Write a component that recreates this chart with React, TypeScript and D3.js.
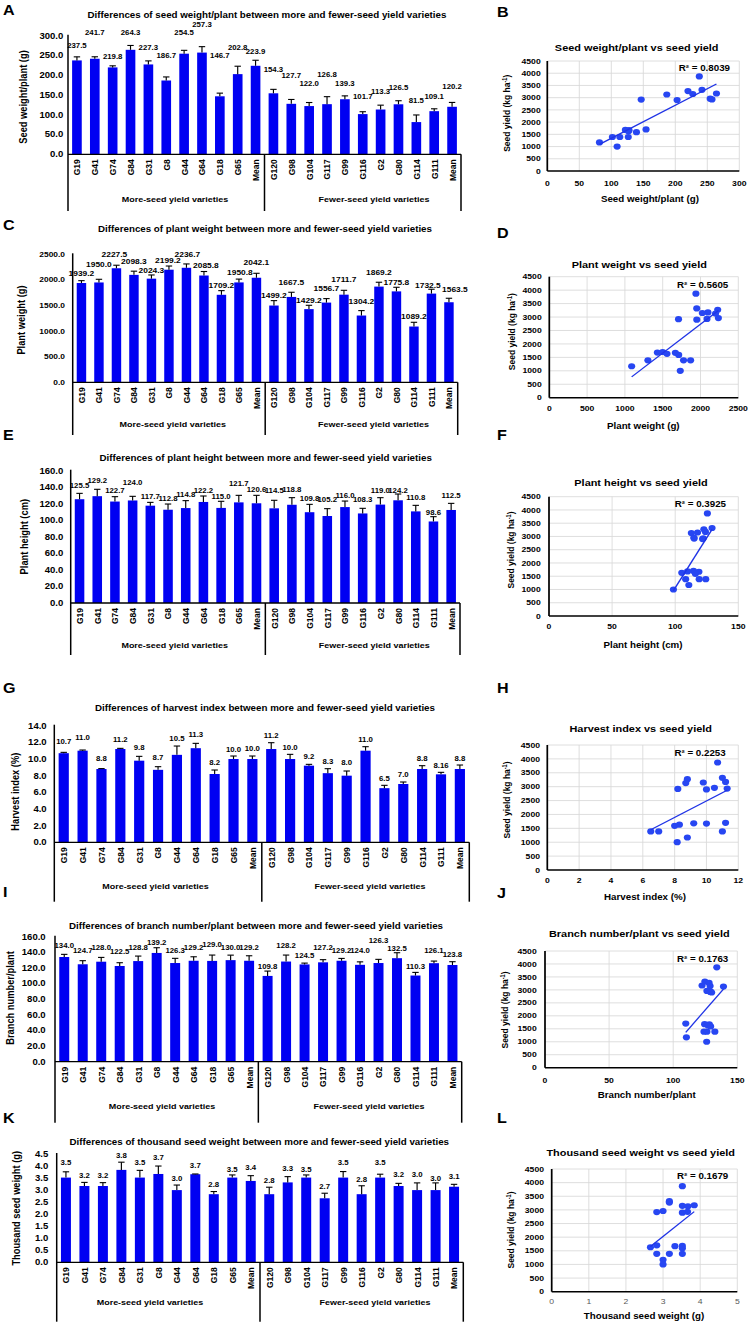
import React from "react";
import * as d3 from "d3";

// ---------- DATA ----------
const moreVarieties = ["G19", "G41", "G74", "G84", "G31", "G8", "G44", "G64", "G18", "G65", "Mean"];
const fewerVarieties = ["G120", "G98", "G104", "G117", "G99", "G116", "G2", "G80", "G114", "G111", "Mean"];
const categories = [...moreVarieties, ...fewerVarieties];
const groupNames = ["More-seed yield varieties", "Fewer-seed yield varieties"];

const seedWeight = [237.5, 241.7, 219.8, 264.3, 227.3, 186.7, 254.5, 257.3, 146.7, 202.8, 223.9, 154.3, 127.7, 122.0, 126.8, 139.3, 101.7, 113.3, 126.5, 81.5, 109.1, 120.2];
const seedWeightErr = [9, 5, 4, 11, 9, 9, 8.5, 15, 8, 20, 14, 10, 11, 9, 19, 8.5, 6, 11, 9, 18, 6, 11];

const plantWeight = [1939.2, 1950.0, 2227.5, 2098.3, 2024.3, 2199.2, 2236.7, 2085.8, 1709.2, 1950.8, 2042.1, 1499.2, 1667.5, 1429.2, 1556.7, 1711.7, 1304.2, 1869.2, 1775.8, 1089.2, 1732.5, 1563.5];
const plantWeightErr = [46, 62, 59, 72, 72, 72, 75, 78, 81, 65, 87, 96, 91, 75, 78, 85, 96, 85, 80, 83, 85, 78];

const plantHeight = [125.5, 129.2, 122.7, 124.0, 117.7, 112.8, 114.8, 122.2, 115.0, 121.7, 120.6, 114.5, 118.8, 109.8, 105.2, 116.0, 108.3, 119.0, 124.2, 110.8, 98.6, 112.5];
const plantHeightErr = [7.1, 8.3, 5.9, 5, 4, 6.9, 9, 7.2, 8, 8.5, 9.6, 9.7, 8.6, 9.5, 8.9, 7.3, 6.2, 8.4, 7.6, 7.3, 5.8, 8];

const harvestIndex = [10.7, 11.0, 8.8, 11.2, 9.8, 8.7, 10.5, 11.3, 8.2, 10.0, 10.0, 11.2, 10.0, 9.2, 8.3, 8.0, 11.0, 6.5, 7.0, 8.8, 8.16, 8.8];
const harvestIndexErr = [0.1, 0.08, 0.05, 0.08, 0.52, 0.38, 1.06, 0.58, 0.48, 0.36, 0.36, 0.76, 0.56, 0.16, 0.54, 0.56, 0.48, 0.34, 0.24, 0.4, 0.24, 0.48];
const harvestIndexText = ["10.7", "11.0", "8.8", "11.2", "9.8", "8.7", "10.5", "11.3", "8.2", "10.0", "10.0", "11.2", "10.0", "9.2", "8.3", "8.0", "11.0", "6.5", "7.0", "8.8", "8.16", "8.8"];

const branchNumber = [134.0, 124.7, 128.0, 122.5, 128.8, 139.2, 126.3, 129.2, 129.0, 130.0, 129.2, 109.8, 128.2, 124.5, 127.2, 129.2, 124.0, 126.3, 132.5, 110.3, 126.1, 123.8];
const branchNumberErr = [3.4, 4.6, 5.5, 4.2, 6.4, 6.7, 6, 5.1, 7.5, 6.4, 6.4, 6.2, 8.3, 1.7, 3.4, 3, 3.8, 4.7, 7, 4, 2.7, 4.2];

const seedWeight1000 = [3.52, 3.17, 3.17, 3.84, 3.52, 3.67, 3.0, 3.66, 2.83, 3.52, 3.38, 2.83, 3.32, 3.52, 2.66, 3.52, 2.83, 3.52, 3.17, 3.0, 3.0, 3.14];
const seedWeight1000Err = [0.24, 0.15, 0.14, 0.32, 0.3, 0.33, 0.21, 0.01, 0.11, 0.11, 0.22, 0.29, 0.24, 0.11, 0.21, 0.25, 0.35, 0.14, 0.11, 0.3, 0.3, 0.1];
const seedWeight1000Text = ["3.5", "3.2", "3.2", "3.8", "3.5", "3.7", "3.0", "3.7", "2.8", "3.5", "3.4", "2.8", "3.3", "3.5", "2.7", "3.5", "2.8", "3.5", "3.2", "3.0", "3.0", "3.1"];

// seed yield (kg/ha) of the 20 varieties, same order as categories without "Mean"
const seedYield = [3870, 3320, 3270, 3170, 3150, 3130, 2960, 2930, 2920, 2900, 1700, 1670, 1680, 1630, 1590, 1390, 1390, 1390, 1170, 1000];
const rSquared = ["0.8039", "0.5605", "0.3925", "0.2253", "0.1763", "0.1679"];

// ---------- LAYOUT (label placement, axis units) ----------
const labelAtA = [274, 309, 246, 309, 269, 249, 307, 327, 249, 269, 259, 213, 198, 178, 201, 178, 145, 158, 168, 137, 145, 170];
const labelAtC = [2129, 2305, 2500, 2356, 2180, 2389, 2500, 2277, 1900, 2148, 2336, 1699, 1945, 1594, 1828, 2012, 1574, 2141, 1945, 1295, 1900, 1822];
const labelDxC = [0, 0, -2, 0, 0, -1, 1, 2, 0, 1, 0, 0, 0, 0, 0, 0, 0, 0, 0, 0, -3.5, 6];
const labelAtE = [141.5, 147.9, 135.8, 145.5, 129, 125.7, 130.6, 135.8, 129, 144.7, 137.5, 135.8, 136.6, 126.6, 124.5, 129.7, 124.9, 135.8, 135.8, 127.8, 108.8, 130.2];
const labelAtG = [12.04, 12.6, 10.0, 12.3, 11.4, 10.2, 12.5, 12.9, 9.6, 11.1, 11.2, 12.8, 11.4, 10.3, 9.7, 9.6, 12.3, 7.7, 8.1, 10.0, 9.2, 10.0];
const labelAtI = [148.1, 142.1, 146.4, 140.8, 146.4, 152.3, 142.1, 146.4, 149.4, 146.4, 146.4, 121.6, 148.1, 135.3, 146.4, 142.1, 142.1, 154.9, 145.1, 121.6, 142.1, 136.6];
const labelAtK = [4.14, 3.59, 3.59, 4.42, 4.14, 4.36, 3.49, 4.01, 3.21, 3.86, 3.93, 3.39, 3.9, 3.86, 3.14, 4.14, 3.45, 4.14, 3.63, 3.66, 3.49, 3.56];

const SX = 1.15; // the figure is stretched horizontally
const W = 748;
const H = 1325;
const X = (v: number) => v / SX;
const FONT = "'Liberation Sans', Arial, Helvetica, sans-serif";
const BAR = "#0000f2";
const DOT = "#2746f2";
const LINE = "#1f33e6";

const fmt1 = (v: number) => v.toFixed(1);

type BarLayout = {
  left: number; right: number; top: number; bottom: number; boxBottom: number;
  tickRight: number; yTitleX: number; yTitleCY: number; groupCY: number; groupCX: number[];
  titleCX: number; titleCY: number; letterY: number; tickFont?: number; labelFont?: number; labelDx?: number[];
};

function BarPanel(props: {
  letter: string; title: string; yTitle: string; values: number[]; errs: number[];
  labels: string[]; labelAt: number[]; yMax: number; yStep: number; L: BarLayout;
}) {
  const { letter, title, yTitle, values, errs, labels, labelAt, yMax, yStep, L } = props;
  const x = d3.scaleBand<number>().domain(d3.range(categories.length)).range([X(L.left), X(L.right)]).paddingInner(0.46).paddingOuter(0.23);
  const y = d3.scaleLinear().domain([0, yMax]).range([L.bottom, L.top]);
  const ticks = d3.range(0, yMax + yStep / 2, yStep);
  const step = x.step();
  const divider = X(L.left) + step * moreVarieties.length;
  const bw = x.bandwidth();
  const cap = X(3.2);
  const tickFont = L.tickFont ?? 8.3;
  const labelFont = L.labelFont ?? 6.8;
  return (
    <g fontFamily={FONT}>
      <text x={X(3)} y={L.letterY} fontSize={14} fontWeight="bold">{letter}</text>
      <text x={X(L.titleCX)} y={L.titleCY} dy="0.35em" textAnchor="middle" fontSize={8.5} fontWeight="bold">{title}</text>
      <text transform={`translate(${X(L.yTitleX)},${L.yTitleCY}) rotate(-90)`} dy="0.35em" textAnchor="middle" fontSize={9.3} fontWeight="bold">{yTitle}</text>
      {ticks.map((t) => (
        <text key={t} x={X(L.tickRight)} y={y(t)} dy="0.35em" textAnchor="end" fontSize={tickFont} fontWeight="bold">{fmt1(t)}</text>
      ))}
      {values.map((v, i) => {
        const cx = (x(i) as number) + bw / 2;
        const dx = L.labelDx ? X(L.labelDx[i]) : 0;
        return (
          <g key={i}>
            <rect x={x(i)} y={y(v)} width={bw} height={L.bottom - y(v)} fill={BAR} />
            <line x1={cx} x2={cx} y1={y(v)} y2={y(v + errs[i])} stroke="#000" strokeWidth={1} />
            <line x1={cx - cap} x2={cx + cap} y1={y(v + errs[i])} y2={y(v + errs[i])} stroke="#000" strokeWidth={1.1} />
            <text x={cx + dx} y={y(labelAt[i])} dy="0.35em" textAnchor="middle" fontSize={labelFont} fontWeight="bold">{labels[i]}</text>
            <text transform={`translate(${cx},${L.bottom + 5}) rotate(-90)`} dy="0.35em" textAnchor="end" fontSize={8.5} fontWeight="bold">{categories[i]}</text>
          </g>
        );
      })}
      <line x1={X(L.left)} x2={X(L.left)} y1={L.top - 1} y2={L.boxBottom} stroke="#000" strokeWidth={1.3} />
      <line x1={X(L.left)} x2={X(L.right)} y1={L.bottom} y2={L.bottom} stroke="#000" strokeWidth={1.3} />
      <line x1={divider} x2={divider} y1={L.bottom} y2={L.boxBottom} stroke="#000" strokeWidth={1.3} />
      <line x1={X(L.right)} x2={X(L.right)} y1={L.bottom} y2={L.boxBottom} stroke="#000" strokeWidth={1.3} />
      {groupNames.map((g, i) => (
        <text key={g} x={X(L.groupCX[i])} y={L.groupCY} dy="0.35em" textAnchor="middle" fontSize={7.8} fontWeight="bold">{g}</text>
      ))}
    </g>
  );
}

type ScatterLayout = {
  left: number; right: number; top: number; bottom: number; tickRight: number;
  xTickCY: number; xTitleCX: number; xTitleCY: number; yTitleX: number; yTitleCY: number;
  r2Right: number; r2CY: number; titleCX: number; titleCY: number; letterY: number; lightXTicks?: boolean;
};

function ScatterPanel(props: {
  letter: string; title: string; xTitle: string; xs: number[]; ys: number[];
  xMax: number; xStep: number; r2: string; L: ScatterLayout;
}) {
  const { letter, title, xTitle, xs, ys, xMax, xStep, r2, L } = props;
  const x = d3.scaleLinear().domain([0, xMax]).range([X(L.left), X(L.right)]);
  const y = d3.scaleLinear().domain([0, 4500]).range([L.bottom, L.top]);
  const xt = d3.range(0, xMax + xStep / 2, xStep);
  const yt = d3.range(0, 4501, 500);
  const mx = d3.mean(xs) as number;
  const my = d3.mean(ys) as number;
  let sxy = 0, sxx = 0;
  xs.forEach((v, i) => { sxy += (v - mx) * (ys[i] - my); sxx += (v - mx) * (v - mx); });
  const slope = sxy / sxx;
  const icpt = my - slope * mx;
  const [x0, x1] = d3.extent(xs) as [number, number];
  return (
    <g fontFamily={FONT}>
      <text x={X(497)} y={L.letterY} fontSize={14} fontWeight="bold">{letter}</text>
      <text x={X(L.titleCX)} y={L.titleCY} dy="0.35em" textAnchor="middle" fontSize={9.5} fontWeight="bold">{title}</text>
      {yt.slice(1).map((t) => (
        <line key={"gy" + t} x1={X(L.left)} x2={X(L.right)} y1={y(t)} y2={y(t)} stroke="#d9d9d9" strokeWidth={0.8} />
      ))}
      {xt.slice(1).map((t) => (
        <line key={"gx" + t} x1={x(t)} x2={x(t)} y1={L.top} y2={L.bottom} stroke="#d9d9d9" strokeWidth={0.8} />
      ))}
      {yt.map((t) => (
        <text key={"ty" + t} x={X(L.tickRight)} y={y(t)} dy="0.35em" textAnchor="end" fontSize={7.5} fontWeight="bold">{t}</text>
      ))}
      {xt.map((t) => (
        <text key={"tx" + t} x={x(t)} y={L.xTickCY} dy="0.35em" textAnchor="middle" fontSize={7.5}
          fontWeight={L.lightXTicks ? "normal" : "bold"} fill={L.lightXTicks ? "#595959" : "#000"}>{t}</text>
      ))}
      <line x1={X(L.left)} x2={X(L.left)} y1={L.top} y2={L.bottom} stroke="#000" strokeWidth={1.5} />
      <line x1={X(L.left)} x2={X(L.right)} y1={L.bottom} y2={L.bottom} stroke="#000" strokeWidth={1.5} />
      {xs.map((v, i) => (
        <circle key={i} cx={x(v)} cy={y(ys[i])} r={3.1} fill={DOT} />
      ))}
      <line x1={x(x0)} x2={x(x1)} y1={y(icpt + slope * x0)} y2={y(icpt + slope * x1)} stroke={LINE} strokeWidth={1.2} />
      <text x={X(L.r2Right)} y={L.r2CY} dy="0.35em" textAnchor="end" fontSize={8.5} fontWeight="bold">R² = {r2}</text>
      <text x={X(L.xTitleCX)} y={L.xTitleCY} dy="0.35em" textAnchor="middle" fontSize={8.5} fontWeight="bold">{xTitle}</text>
      <text transform={`translate(${X(L.yTitleX)},${L.yTitleCY}) rotate(-90)`} dy="0.35em" textAnchor="middle" fontSize={8.5} fontWeight="bold">
        Seed yield (kg ha<tspan fontSize={5.5} dy="-3">-1</tspan><tspan dy="3">)</tspan>
      </text>
    </g>
  );
}

const varietyOnly = (arr: number[]) => arr.filter((_, i) => categories[i] !== "Mean");
const textOf = (arr: number[]) => arr.map(fmt1);

export default function App() {
  return (
    <svg width={W} height={H} viewBox={`0 0 ${W / SX} ${H}`} preserveAspectRatio="none"
      style={{ position: "absolute", left: 0, top: 0, background: "#fff" }}>
      <rect x={0} y={0} width={W / SX} height={H} fill="#fff" />
      <BarPanel letter="A" title="Differences of seed weight/plant between more and fewer-seed yield varieties"
        yTitle="Seed weight/plant (g)" values={seedWeight} errs={seedWeightErr} labels={textOf(seedWeight)} labelAt={labelAtA}
        yMax={300} yStep={50}
        L={{ left: 68, right: 461, top: 35.7, bottom: 154.3, boxBottom: 211, tickRight: 63.3, yTitleX: 23, yTitleCY: 97, groupCY: 199, groupCX: [175, 374], titleCX: 267, titleCY: 15, letterY: 15 }} />
      <BarPanel letter="C" title="Differences of plant weight between more and fewer-seed yield varieties"
        yTitle="Plant weight (g)" values={plantWeight} errs={plantWeightErr} labels={textOf(plantWeight)} labelAt={labelAtC}
        yMax={2500} yStep={500}
        L={{ left: 72.7, right: 457.7, top: 254.3, bottom: 382.3, boxBottom: 435, tickRight: 65, yTitleX: 21.7, yTitleCY: 320, groupCY: 424, groupCX: [172.8, 373.5], titleCX: 265, titleCY: 229.3, letterY: 230, tickFont: 7.3, labelFont: 7.3, labelDx: labelDxC }} />
      <BarPanel letter="E" title="Differences of plant height between more and fewer-seed yield varieties"
        yTitle="Plant height (cm)" values={plantHeight} errs={plantHeightErr} labels={textOf(plantHeight)} labelAt={labelAtE}
        yMax={160} yStep={20}
        L={{ left: 70.7, right: 460, top: 470.7, bottom: 603, boxBottom: 655, tickRight: 63.3, yTitleX: 24, yTitleCY: 536.7, groupCY: 645, groupCX: [174.7, 374.3], titleCX: 265.7, titleCY: 458.3, letterY: 440 }} />
      <BarPanel letter="G" title="Differences of harvest index between more and fewer-seed yield varieties"
        yTitle="Harvest index (%)" values={harvestIndex} errs={harvestIndexErr} labels={harvestIndexText} labelAt={labelAtG}
        yMax={14} yStep={2}
        L={{ left: 54.3, right: 469.3, top: 725.7, bottom: 842.3, boxBottom: 901.7, tickRight: 46.7, yTitleX: 15.7, yTitleCY: 791.7, groupCY: 886, groupCX: [155.5, 370], titleCX: 265, titleCY: 708.3, letterY: 693 }} />
      <BarPanel letter="I" title="Differences of branch number/plant between more and fewer-seed yield varieties"
        yTitle="Branch number/plant" values={branchNumber} errs={branchNumberErr} labels={textOf(branchNumber)} labelAt={labelAtI}
        yMax={160} yStep={20}
        L={{ left: 55, right: 461.7, top: 936.7, bottom: 1061.7, boxBottom: 1122.7, tickRight: 45.7, yTitleX: 10, yTitleCY: 998, groupCY: 1106, groupCX: [162, 369], titleCX: 256, titleCY: 926, letterY: 897 }} />
      <BarPanel letter="K" title="Differences of thousand seed weight between more and fewer-seed yield varieties"
        yTitle="Thousand seed weight (g)" values={seedWeight1000} errs={seedWeight1000Err} labels={seedWeight1000Text} labelAt={labelAtK}
        yMax={4.5} yStep={0.5}
        L={{ left: 56.7, right: 463.3, top: 1154, bottom: 1262.3, boxBottom: 1321.7, tickRight: 48.3, yTitleX: 16.7, yTitleCY: 1208.3, groupCY: 1302.3, groupCX: [150, 375], titleCX: 259.3, titleCY: 1141.7, letterY: 1123 }} />

      <ScatterPanel letter="B" title="Seed weight/plant vs seed yield" xTitle="Seed weight/plant (g)"
        xs={varietyOnly(seedWeight)} ys={seedYield} xMax={300} xStep={50} r2={rSquared[0]}
        L={{ left: 547.3, right: 739.3, top: 61, bottom: 171, tickRight: 540.7, xTickCY: 183.3, xTitleCX: 650, xTitleCY: 199.3, yTitleX: 506.7, yTitleCY: 113.3, r2Right: 730, r2CY: 68.3, titleCX: 636.7, titleCY: 47.3, letterY: 16.7 }} />
      <ScatterPanel letter="D" title="Plant weight vs seed yield" xTitle="Plant weight (g)"
        xs={varietyOnly(plantWeight)} ys={seedYield} xMax={2500} xStep={500} r2={rSquared[1]}
        L={{ left: 549.3, right: 738.3, top: 276.7, bottom: 397.7, tickRight: 541.7, xTickCY: 408.3, xTitleCX: 643.3, xTitleCY: 425.7, yTitleX: 511.7, yTitleCY: 331.7, r2Right: 728.3, r2CY: 285, titleCX: 639.3, titleCY: 265, letterY: 238 }} />
      <ScatterPanel letter="F" title="Plant height vs seed yield" xTitle="Plant height (cm)"
        xs={varietyOnly(plantHeight)} ys={seedYield} xMax={150} xStep={50} r2={rSquared[2]}
        L={{ left: 549, right: 738.3, top: 496.7, bottom: 616, tickRight: 540.7, xTickCY: 626.7, xTitleCX: 643, xTitleCY: 645, yTitleX: 510.7, yTitleCY: 550, r2Right: 726, r2CY: 504, titleCX: 641, titleCY: 482.7, letterY: 440 }} />
      <ScatterPanel letter="H" title="Harvest index vs seed yield" xTitle="Harvest index (%)"
        xs={varietyOnly(harvestIndex)} ys={seedYield} xMax={12} xStep={2} r2={rSquared[3]}
        L={{ left: 547.3, right: 738.3, top: 745, bottom: 870, tickRight: 540, xTickCY: 880.7, xTitleCX: 645, xTitleCY: 897.3, yTitleX: 506.7, yTitleCY: 800, r2Right: 725.7, r2CY: 753.3, titleCX: 640.7, titleCY: 729, letterY: 693 }} />
      <ScatterPanel letter="J" title="Branch number/plant vs seed yield" xTitle="Branch number/plant"
        xs={varietyOnly(branchNumber)} ys={seedYield} xMax={150} xStep={50} r2={rSquared[4]}
        L={{ left: 545, right: 737.3, top: 951, bottom: 1067.7, tickRight: 536.7, xTickCY: 1080, xTitleCX: 646.7, xTitleCY: 1095, yTitleX: 505, yTitleCY: 1010, r2Right: 728.3, r2CY: 959, titleCX: 639.3, titleCY: 933.3, letterY: 898 }} />
      <ScatterPanel letter="L" title="Thousand seed weight vs seed yield" xTitle="Thousand seed weight (g)"
        xs={varietyOnly(seedWeight1000)} ys={seedYield} xMax={5} xStep={1} r2={rSquared[5]}
        L={{ left: 551.7, right: 737.3, top: 1169, bottom: 1291.7, tickRight: 544, xTickCY: 1301.7, xTitleCX: 644, xTitleCY: 1315.7, yTitleX: 510.7, yTitleCY: 1230, r2Right: 728.3, r2CY: 1175.7, titleCX: 640.7, titleCY: 1152.3, letterY: 1123, lightXTicks: true }} />
    </svg>
  );
}
